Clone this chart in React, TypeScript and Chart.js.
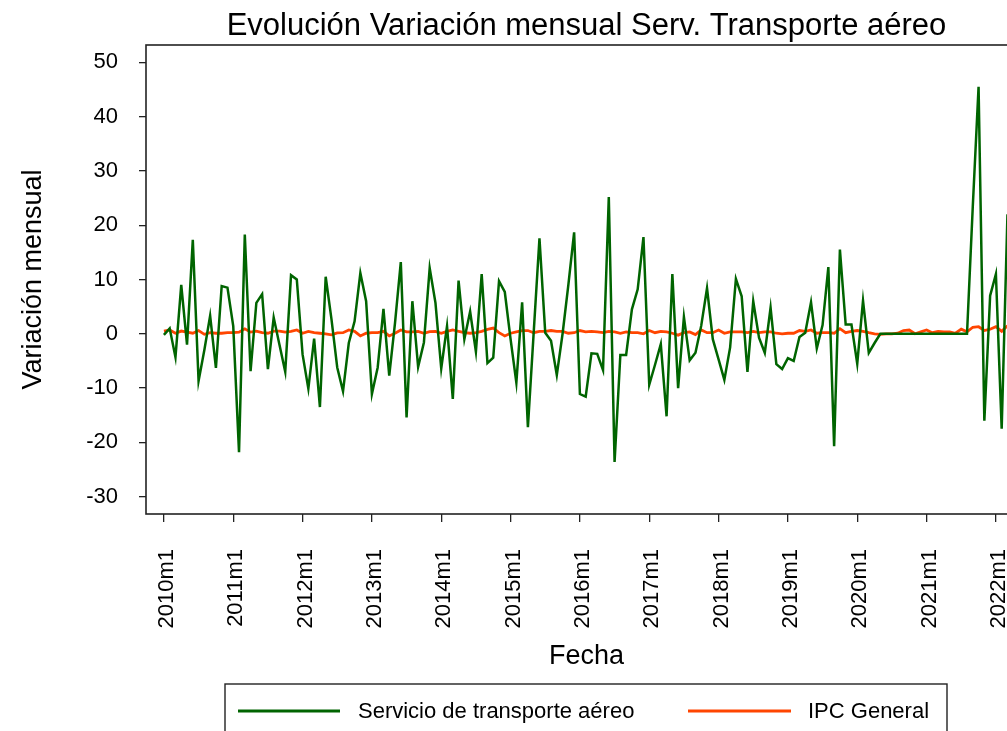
import { useEffect, useRef } from 'react';
import { Chart, registerables } from 'chart.js';

Chart.register(...registerables);

// Monthly categories 2010m1 .. 2022m3 (147 months)
const categories: string[] = [];
for (let y = 2010; y <= 2022; y++) {
  for (let m = 1; m <= 12; m++) {
    if (categories.length < 147) categories.push(`${y}m${m}`);
  }
}

const tickLabels = ['2010m1', '2011m1', '2012m1', '2013m1', '2014m1', '2015m1', '2016m1', '2017m1', '2018m1', '2019m1', '2020m1', '2021m1', '2022m1'];
const yTicks = [-30, -20, -10, 0, 10, 20, 30, 40, 50];

const transporteAereo = [
  -0.2, 1.0, -4.3, 9.0, -2.0, 17.3, -8.7, -3.0, 3.3, -6.3, 8.8, 8.5,
  1.4, -21.8, 18.3, -6.9, 5.7, 7.3, -6.5, 3.0, -2.0, -7.0, 10.8, 10.0,
  -3.8, -10.1, -0.9, -13.5, 10.5, 2.7, -6.2, -10.6, -1.7, 2.3, 11.2, 6.0,
  -11.1, -6.2, 4.6, -7.7, 2.0, 13.2, -15.4, 6.0, -6.1, -1.6, 12.1, 5.7,
  -6.4, 1.4, -12.0, 9.8, -1.0, 4.1, -3.3, 11.0, -5.4, -4.4, 9.7, 7.7,
  -1.0, -9.0, 5.8, -17.2, 0.2, 17.6, 0.2, -1.3, -7.6, 0.0, 9.0, 18.7,
  -11.1, -11.6, -3.6, -3.7, -6.7, 25.2, -23.6, -3.9, -3.9, 4.5, 8.2, 17.8,
  -9.4, -5.7, -1.9, -15.2, 11.0, -10.0, 3.1, -4.9, -3.5, 1.5, 8.4, -1.0,
  -4.7, -8.5, -2.5, 10.1, 6.9, -7.0, 6.0, -0.7, -3.5, 4.8, -5.6, -6.5,
  -4.5, -5.0, -0.6, 0.2, 5.8, -2.7, 1.6, 12.3, -20.7, 15.5, 1.7, 1.7,
  -5.5, 6.1, -3.5, -1.7, 0, 0, 0, 0, 0, 0, 0, 0,
  0, 0, 0, 0, 0, 0, 0, 0, 23.5, 45.5, -16.0, 7.0,
  11.0, -17.5, 22.0,
];

const ipcGeneral = [
  0.5, 0.7, 0.1, 0.5, 0.3, 0.1, 0.6, -0.1, 0.2, 0.1, 0.1, 0.2,
  0.2, 0.3, 0.9, 0.3, 0.5, 0.2, 0.1, 0.5, 0.5, 0.3, 0.45, 0.7,
  0.1, 0.45, 0.2, 0.1, 0.0, -0.2, 0.15, 0.2, 0.7, 0.45, -0.4, 0.1,
  0.2, 0.2, 0.45, -0.4, 0.1, 0.7, 0.35, 0.35, 0.45, 0.1, 0.4, 0.45,
  0.1, 0.45, 0.7, 0.45, 0.2, 0.1, 0.2, 0.45, 0.8, 1.05, 0.2, -0.4,
  0.1, 0.35, 0.6, 0.6, 0.2, 0.45, 0.45, 0.6, 0.45, 0.45, 0.1, 0.2,
  0.6, 0.35, 0.45, 0.35, 0.2, 0.45, 0.35, 0.1, 0.35, 0.2, 0.2, 0.0,
  0.6, 0.2, 0.45, 0.35, 0.1, -0.25, 0.2, 0.35, -0.15, 0.7, 0.2, 0.2,
  0.7, 0.1, 0.35, 0.35, 0.35, 0.2, 0.45, 0.2, 0.35, 0.35, 0.1, 0.0,
  0.1, 0.1, 0.6, 0.45, 0.7, 0.1, 0.2, 0.2, 0.1, 0.95, 0.2, 0.45,
  0.6, 0.45, 0.2, 0.0, -0.1, 0.0, 0.0, 0.1, 0.6, 0.7, 0.0, 0.35,
  0.7, 0.2, 0.45, 0.35, 0.35, 0.1, 0.85, 0.35, 1.2, 1.3, 0.6, 0.85,
  1.3, 0.45, 1.5,
];

const seriesNames = ['Servicio de transporte aéreo', 'IPC General'];
const seriesColors = ['#006400', '#FF4500'];

const FONT = '"Liberation Sans", Arial, sans-serif';

export default function App() {
  const ref = useRef<HTMLCanvasElement | null>(null);

  useEffect(() => {
    if (!ref.current) return;
    const tickPositions = tickLabels.map((l) => categories.indexOf(l));

    const decorPlugin = {
      id: 'decor',
      afterDraw(chart: any) {
        const ctx = chart.ctx as CanvasRenderingContext2D;
        const a = chart.chartArea;
        ctx.save();
        // plot box
        ctx.strokeStyle = '#222';
        ctx.lineWidth = 1.6;
        ctx.strokeRect(a.left, a.top, a.right - a.left, a.bottom - a.top);

        ctx.fillStyle = '#000';
        const cx = 586.5;
        // title
        ctx.font = `31px ${FONT}`;
        ctx.textAlign = 'center';
        ctx.textBaseline = 'alphabetic';
        ctx.fillText('Evolución Variación mensual Serv. Transporte aéreo', cx, 35);
        // x title
        ctx.font = `27px ${FONT}`;
        ctx.fillText('Fecha', cx, 664);
        // y title
        ctx.save();
        ctx.translate(41, (a.top + a.bottom) / 2);
        ctx.rotate(-Math.PI / 2);
        ctx.fillText('Variación mensual', 0, 0);
        ctx.restore();

        // legend
        ctx.strokeStyle = '#222';
        ctx.lineWidth = 1.4;
        ctx.strokeRect(225, 684, 722, 80);
        const ly = 711;
        ctx.lineWidth = 3;
        ctx.strokeStyle = seriesColors[0];
        ctx.beginPath();
        ctx.moveTo(238, ly);
        ctx.lineTo(340, ly);
        ctx.stroke();
        ctx.strokeStyle = seriesColors[1];
        ctx.beginPath();
        ctx.moveTo(688, ly);
        ctx.lineTo(791, ly);
        ctx.stroke();
        ctx.font = `22px ${FONT}`;
        ctx.textAlign = 'left';
        ctx.textBaseline = 'middle';
        ctx.fillStyle = '#000';
        ctx.fillText(seriesNames[0], 358, ly + 1);
        ctx.fillText(seriesNames[1], 808, ly + 1);
        ctx.restore();
      },
    };

    const chart = new Chart(ref.current, {
      type: 'line',
      data: {
        datasets: [
          {
            label: seriesNames[0],
            data: transporteAereo.map((v, i) => ({ x: i, y: v })),
            borderColor: seriesColors[0],
            borderWidth: 2.5,
            pointRadius: 0,
            tension: 0,
          },
          {
            label: seriesNames[1],
            data: ipcGeneral.map((v, i) => ({ x: i, y: v })),
            borderColor: seriesColors[1],
            borderWidth: 2.8,
            pointRadius: 0,
            tension: 0,
          },
        ],
      },
      options: {
        animation: false,
        responsive: false,
        events: [],
        layout: { padding: { top: 45, right: 23, left: 0, bottom: 0 } },
        plugins: {
          legend: { display: false },
          title: { display: false },
          tooltip: { enabled: false },
        },
        scales: {
          x: {
            type: 'linear',
            min: -3.1,
            max: 148.58,
            afterBuildTicks: (s: any) => {
              s.ticks = tickPositions.map((v) => ({ value: v }));
            },
            afterFit: (s: any) => {
              s.height = 217;
            },
            grid: {
              display: true,
              drawOnChartArea: false,
              drawTicks: true,
              tickLength: 8,
              color: '#222',
              lineWidth: 1.3,
            },
            border: { display: false },
            ticks: {
              autoSkip: false,
              minRotation: 90,
              maxRotation: 90,
              padding: 27,
              labelOffset: 3,
              color: '#000',
              font: { family: FONT, size: 22 },
              callback: (v: any) => categories[Math.round(Number(v))] ?? '',
            },
          },
          y: {
            type: 'linear',
            min: -33.2,
            max: 53.2,
            afterBuildTicks: (s: any) => {
              s.ticks = yTicks.map((v) => ({ value: v }));
            },
            afterFit: (s: any) => {
              s.width = 146;
            },
            grid: {
              display: true,
              drawOnChartArea: false,
              drawTicks: true,
              tickLength: 7,
              color: '#222',
              lineWidth: 1.3,
            },
            border: { display: false },
            ticks: {
              padding: 21,
              color: '#000',
              font: { family: FONT, size: 22 },
              callback: (v: any) => String(v),
            },
          },
        },
      },
      plugins: [decorPlugin],
    } as any);

    return () => chart.destroy();
  }, []);

  return (
    <div
      style={{
        position: 'fixed',
        left: 0,
        top: 0,
        width: 1007,
        height: 731,
        overflow: 'hidden',
        background: '#fff',
      }}
    >
      <canvas ref={ref} width={1050} height={731} style={{ display: 'block' }} />
    </div>
  );
}
